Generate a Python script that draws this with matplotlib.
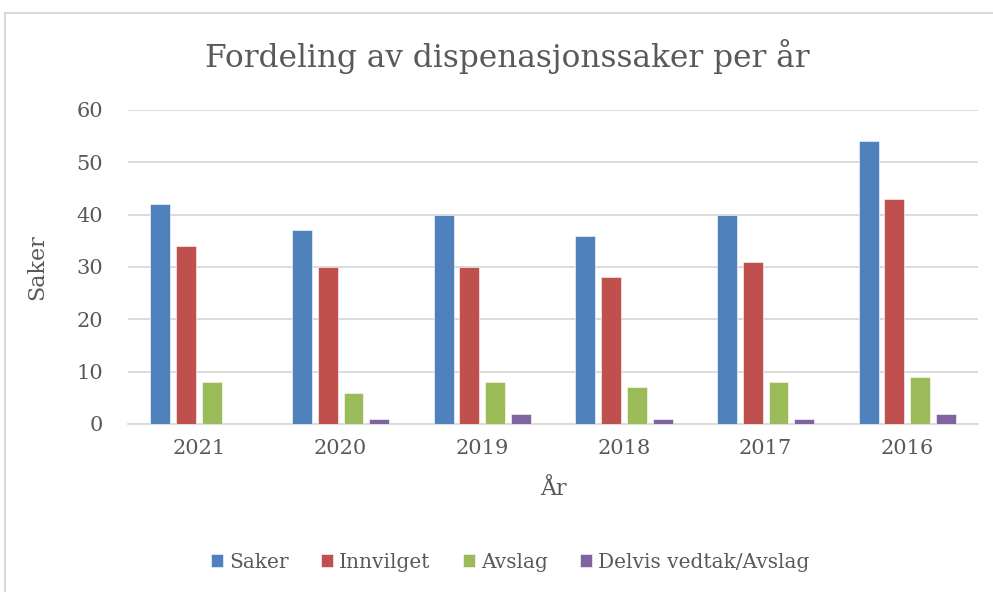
import matplotlib.pyplot as plt
import numpy as np
from matplotlib.lines import Line2D

# data
years = ['2021', '2020', '2019', '2018', '2017', '2016']
saker = [42, 37, 40, 36, 40, 54]
innvilget = [34, 30, 30, 28, 31, 43]
avslag = [8, 6, 8, 7, 8, 9]
delvis = [0, 1, 2, 1, 1, 2]

series = [('Saker', saker, '#4F81BD'),
          ('Innvilget', innvilget, '#C0504D'),
          ('Avslag', avslag, '#9BBB59'),
          ('Delvis vedtak/Avslag', delvis, '#8064A2')]

txt = '#595959'
grid = '#D9D9D9'
plt.rcParams['font.family'] = ['DejaVu Serif']

fig = plt.figure(figsize=(9.93, 5.92), dpi=100)
ax = fig.add_axes([0.129, 0.2838, 0.856, 0.5304])

x = np.arange(len(years))
step = 0.182
width = 0.141
for i, (name, vals, col) in enumerate(series):
    ax.bar(x + (i - 1.5) * step, vals, width, color=col, label=name,
           edgecolor='white', linewidth=0.4, zorder=3)

ax.set_xlim(-0.5, len(years) - 0.5)
ax.set_ylim(0, 60)
ax.set_yticks(range(0, 61, 10))
ax.set_xticks(x)
ax.set_xticklabels(years)
ax.tick_params(axis='both', length=0, labelsize=15, colors=txt)
ax.tick_params(axis='y', pad=18)
ax.tick_params(axis='x', pad=11)
ax.grid(axis='y', color=grid, linewidth=1.3, zorder=0)
for s in ['top', 'right', 'left']:
    ax.spines[s].set_visible(False)
ax.spines['bottom'].set_color(grid)
ax.spines['bottom'].set_linewidth(1.3)

ax.set_xlabel('År', fontsize=16, color=txt, labelpad=14)
ax.set_ylabel('Saker', fontsize=16, color=txt, labelpad=20)
fig.text(0.511, 0.905, 'Fordeling av dispenasjonssaker per år',
         ha='center', va='center', fontsize=22.5, color=txt)

fig.legend(loc='center', bbox_to_anchor=(0.514, 0.05), ncol=4,
           frameon=False, fontsize=14.5, labelcolor=txt,
           handlelength=0.6, handleheight=0.6, handletextpad=0.3,
           columnspacing=1.6)

# chart area frame (only left and top edges visible in the crop)
fig.add_artist(Line2D([0.005, 0.005], [0, 0.978], color=grid, lw=1.5,
                      transform=fig.transFigure))
fig.add_artist(Line2D([0.005, 1], [0.978, 0.978], color=grid, lw=1.5,
                      transform=fig.transFigure))

fig.savefig('out.png', dpi=100)
